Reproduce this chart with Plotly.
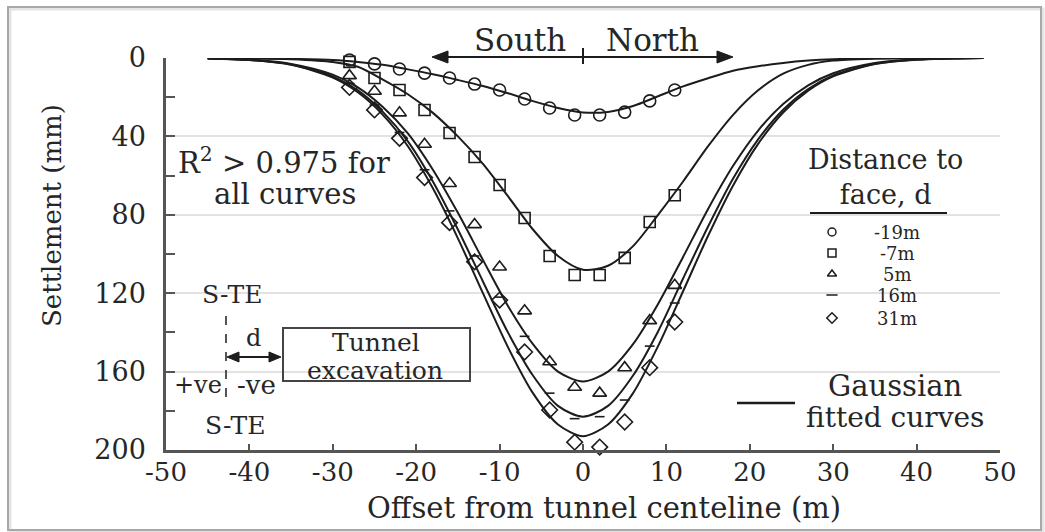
import plotly.graph_objects as go

# ---------------- data ----------------
fit_x = [-45, -40, -35, -30, -27, -24, -21, -18, -15, -12, -9, -6, -3, 0,
         3, 6, 9, 12, 15, 18, 21, 24, 27, 30, 35, 40, 45, 48]
fit_m19 = [0, 0.2, 0.5, 1, 2, 3.5, 5.8, 8.3, 11.2, 14.3, 18, 22, 25.5, 27.8,
           27.5, 24.5, 19.5, 14.5, 10.3, 6.5, 4.2, 2.5, 1.3, 0.6, 0.2, 0, 0, 0]
fit_m7 = [0, 0.1, 0.6, 2, 4.5, 11, 18.5, 28, 40, 54, 70.5, 87.5, 101, 108,
          106, 96, 80, 63, 45, 29, 16.5, 8, 3.5, 1.3, 0.3, 0, 0, 0]
fit_p5 = [0.2, 0.9, 3, 8.5, 15, 25, 38.5, 57, 79, 103, 126.5, 146, 160, 165,
          160, 146, 125.5, 101.5, 77, 55, 37, 23.5, 14, 7.8, 2.6, 0.7, 0.1, 0]
fit_p16 = [0.2, 1, 3.3, 9.4, 16.5, 27.5, 42.5, 63, 87.5, 114, 140, 162, 177.5, 183,
           177.5, 162, 139.5, 112.5, 86, 61.5, 41.5, 26.4, 15.8, 8.9, 3, 0.8, 0.2, 0]
fit_p31 = [0.2, 1, 3.5, 10, 17.5, 29, 45, 66.5, 92, 120, 147.5, 171, 187, 193,
           187, 171, 147, 119, 90.7, 65, 43.8, 27.8, 16.7, 9.4, 3.1, 0.9, 0.2, 0]

obs_x = [-28, -25, -22, -19, -16, -13, -10, -7, -4, -1, 2, 5, 8, 11]
obs_m19 = [1, 3, 5.6, 7.7, 10.2, 13.3, 16.3, 20.9, 25.5, 29.1, 29.1, 27.6, 21.9, 16.3]
obs_m7 = [2, 10.2, 16.3, 26.5, 38.3, 50.5, 64.8, 81.6, 101, 110.7, 110.7, 102, 83.7, 70]
obs_p5 = [9, 17, 28, 44, 64, 85, 106.6, 129, 155, 168, 171, 158, 134, 116]
obs_p16 = [13, 24, 38, 57, 78, 101, 122, 142, 171, 184, 183, 174.5, 147, 125]
obs_p31 = [15, 26.5, 41, 61, 84, 104, 123.5, 150, 179.6, 196, 198.5, 185.7, 158, 134.7]

series_names = ["-19m", "-7m", "5m", "16m", "31m"]
x_ticks = [-50, -40, -30, -20, -10, 0, 10, 20, 30, 40, 50]
y_ticks = [0, 40, 80, 120, 160, 200]

fits = [fit_m19, fit_m7, fit_p5, fit_p16, fit_p31]
obs = [obs_m19, obs_m7, obs_p5, obs_p16, obs_p31]

# ---------------- styles ----------------
FONT = "DejaVu Serif"
TXT = "#262626"
LINE = "#1c1c1c"
symbols = ["circle-open", "square-open", "triangle-up-open", "line-ew-open", "diamond-open"]
msizes = [12, 11, 12, 7, 12]

W, H = 1045, 532
L, R, T, B = 166, 1000, 58, 450   # plot area in pixels
XR = (-50, 50)
YR = (200, 0)


def px(x):
    return (x - L) / (R - L)


def py(y):
    return (B - y) / (B - T)


def dx(x):   # pixel -> x data (for legend decorations)
    return XR[0] + (x - L) / (R - L) * (XR[1] - XR[0])


def dy(y):   # pixel -> y data (for legend decorations)
    return YR[1] + (y - T) / (B - T) * (YR[0] - YR[1])


fig = go.Figure()

for f in fits:
    fig.add_trace(go.Scatter(x=fit_x, y=f, mode="lines",
                             line=dict(color=LINE, width=2, shape="spline", smoothing=0.8),
                             showlegend=False, hoverinfo="skip"))

for o, sym, ms in zip(obs, symbols, msizes):
    fig.add_trace(go.Scatter(x=obs_x, y=o, mode="markers",
                             marker=dict(symbol=sym, size=ms, color=LINE,
                                         line=dict(width=1.6, color=LINE)),
                             showlegend=False, cliponaxis=False))

# legend key symbols
leg_rows = [232, 253, 274, 295, 318]
fig.add_trace(go.Scatter(x=[dx(832)] * len(leg_rows), y=[dy(v) for v in leg_rows],
                         mode="markers",
                         marker=dict(symbol=symbols, size=8, color=LINE,
                                     line=dict(width=1.5, color=LINE)),
                         showlegend=False, cliponaxis=False, hoverinfo="skip"))

ann = []


def text(t, x, y, size, xanchor="center"):
    ann.append(dict(text=t, x=px(x), y=py(y), xref="paper", yref="paper",
                    showarrow=False, xanchor=xanchor, yanchor="middle",
                    font=dict(family=FONT, size=size, color=TXT)))


text("South", 520, 40, 31)
text("North", 652, 40, 31)
text("R<sup>2</sup> > 0.975 for", 284, 161, 29)
text("all curves", 285, 194, 29)
text("S-TE", 232, 294, 25)
text("S-TE", 235, 425, 25)
text("d", 253, 338, 24)
text("+ve", 198, 385, 24)
text("-ve", 256, 385, 26)
text("Tunnel", 376, 342, 25)
text("excavation", 375, 370, 25)
text("Distance to<br>face, d", 885, 177, 27)
for name, yy in zip(series_names, leg_rows):
    text(name, 897, yy, 18)
text("Gaussian", 895, 386, 29)
text("fitted curves", 895, 417, 28)
text("Offset from tunnel centeline (m)", 604, 508, 29)
ann.append(dict(text="Settlement (mm)", x=px(52), y=py(215), xref="paper", yref="paper",
                showarrow=False, textangle=-90, xanchor="center", yanchor="middle",
                font=dict(family=FONT, size=26, color=TXT)))

shapes = []


def line(x0, y0, x1, y1, width=2, color=LINE, dash="solid"):
    shapes.append(dict(type="line", xref="paper", yref="paper",
                       x0=px(x0), x1=px(x1), y0=py(y0), y1=py(y1),
                       line=dict(color=color, width=width, dash=dash)))


def head(tip_x, y, direction, length, half):
    base = tip_x - direction * length
    path = "M {:.5f},{:.5f} L {:.5f},{:.5f} L {:.5f},{:.5f} Z".format(
        px(tip_x), py(y), px(base), py(y - half), px(base), py(y + half))
    shapes.append(dict(type="path", xref="paper", yref="paper", path=path,
                       fillcolor=LINE, line=dict(color=LINE, width=1)))


# outer frame with a soft shadow
shapes.append(dict(type="rect", xref="paper", yref="paper", x0=px(10), x1=px(1043),
                   y0=py(9), y1=py(532), line=dict(color="#e4e4e4", width=3)))
shapes.append(dict(type="rect", xref="paper", yref="paper", x0=px(8), x1=px(1041),
                   y0=py(7), y1=py(530), line=dict(color="#a8a8a8", width=2)))
# South / North arrow
line(440, 57, 725, 57)
head(432, 57, -1, 16, 6)
head(733, 57, 1, 16, 6)
line(583, 48, 583, 64)
# S-TE dashed line and d double arrow
line(226, 316, 226, 406, width=1.5, dash="dash")
line(234, 357, 274, 357)
head(227, 357, -1, 12, 5)
head(281, 357, 1, 12, 5)
# tunnel excavation box
shapes.append(dict(type="rect", xref="paper", yref="paper", x0=px(283), x1=px(470),
                   y0=py(328), y1=py(381), line=dict(color="#444", width=2)))
# legend underline and fitted-curve legend line
line(810, 213, 947, 213)
line(737, 403, 795, 403, width=2.5)

fig.update_layout(
    width=W, height=H, autosize=False,
    margin=dict(l=L, r=W - R, t=T, b=H - B, pad=0),
    paper_bgcolor="white", plot_bgcolor="white",
    showlegend=False,
    annotations=ann, shapes=shapes,
    xaxis=dict(range=list(XR), tickvals=x_ticks, ticktext=[str(v) for v in x_ticks],
               ticks="inside", ticklen=6, tickwidth=2, tickcolor="#555",
               showline=True, linecolor="#555", linewidth=2.5, showgrid=False, zeroline=False,
               ticklabelstandoff=-3,
               tickfont=dict(family=FONT, size=26, color=TXT)),
    yaxis=dict(range=list(YR), tickvals=y_ticks, ticktext=[str(v) for v in y_ticks],
               ticks="inside", ticklen=9, tickwidth=2, tickcolor="#555",
               minor=dict(dtick=20, tick0=0, ticks="inside", ticklen=9, tickwidth=2,
                          tickcolor="#555", showgrid=False),
               showline=True, linecolor="#555", linewidth=2.5,
               showgrid=True, gridcolor="#e2e2e2", gridwidth=1.5, zeroline=False,
               ticklabelstandoff=12,
               tickfont=dict(family=FONT, size=27, color=TXT)),
)

fig.write_html("out.html")
